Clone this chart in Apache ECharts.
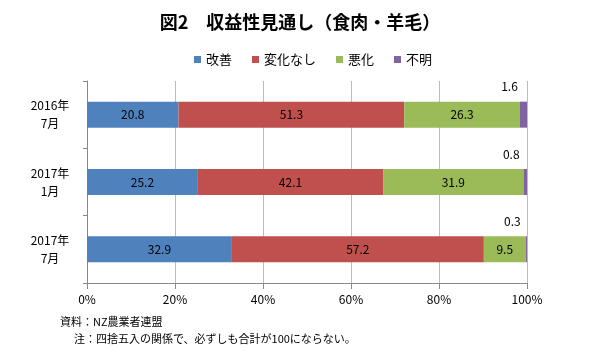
<!DOCTYPE html>
<html><head><meta charset="utf-8">
<script src="https://cdn.jsdelivr.net/npm/echarts@6/dist/echarts.min.js"></script>
<style>html,body{margin:0;padding:0;background:#fff}#c{width:600px;height:363px}</style>
</head><body><div id="c"></div>
<script>
const categories = ['2016年\n7月', '2017年\n1月', '2017年\n7月'];
const seriesNames = ['改善', '変化なし', '悪化', '不明'];
const improve = [20.8, 25.2, 32.9];
const unchanged = [51.3, 42.1, 57.2];
const worse = [26.3, 31.9, 9.5];
const unknown = [1.6, 0.8, 0.3];
const xTicks = [0, 20, 40, 60, 80, 100];
const colors = ['#4f81bd', '#c0504d', '#9bbb59', '#8064a2'];
const values = [improve, unchanged, worse, unknown];
const font = '"Noto Sans CJK JP", sans-serif';

const chart = echarts.init(document.getElementById('c'));
const series = values.map((arr, i) => {
  // normalize each row to 100% stacked
  const data = arr.map((v, j) => {
    const total = values.reduce((s, a) => s + a[j], 0);
    return { value: v / total * 100, raw: v };
  });
  return {
    name: seriesNames[i], type: 'bar', stack: 'a', barWidth: 26,
    itemStyle: { color: colors[i] },
    data: data,
    label: {
      show: true,
      position: i === 3 ? 'top' : 'inside',
      offset: i === 3 ? [-14, -3] : [0, 0],
      distance: 6,
      color: '#000', fontSize: 12, fontFamily: font,
      formatter: p => p.data.raw.toFixed(1)
    }
  };
});

chart.setOption({
  backgroundColor: '#fff',
  animation: false,
  title: {
    text: '図2　収益性見通し（食肉・羊毛）', left: 'center', top: 8,
    textStyle: { fontSize: 18, fontWeight: 'bold', color: '#000', fontFamily: font }
  },
  legend: {
    top: 48, left: 189, itemWidth: 7, itemHeight: 7, itemGap: 20,
    icon: 'rect', textStyle: { fontSize: 13, color: '#000', fontFamily: font },
    data: seriesNames
  },
  grid: { left: 87, right: 73, top: 81, bottom: 80, containLabel: false },
  xAxis: {
    type: 'value', min: 0, max: 100, interval: 20,
    axisLine: { show: true, lineStyle: { color: '#888' } },
    axisTick: { show: true, length: 6, lineStyle: { color: '#888' } },
    splitLine: { show: true, lineStyle: { color: '#bbb' } },
    axisLabel: { color: '#000', fontSize: 12, fontFamily: font, margin: 10,
      formatter: v => xTicks.includes(v) ? v + '%' : '' }
  },
  yAxis: {
    type: 'category', data: categories, inverse: true,
    axisLine: { show: true, lineStyle: { color: '#888' } },
    axisTick: { show: true, length: 4, lineStyle: { color: '#888' } },
    axisLabel: { color: '#000', fontSize: 12, fontFamily: font, lineHeight: 18, margin: 37, align: 'center' },
  },
  graphic: [
    { type: 'text', left: 60, top: 316, style: { text: '資料：NZ農業者連盟', fontSize: 11, fill: '#000', fontFamily: font } },
    { type: 'text', left: 74, top: 333, style: { text: '注：四捨五入の関係で、必ずしも合計が100にならない。', fontSize: 11, fill: '#000', fontFamily: font } }
  ],
  series: series
});
</script></body></html>
